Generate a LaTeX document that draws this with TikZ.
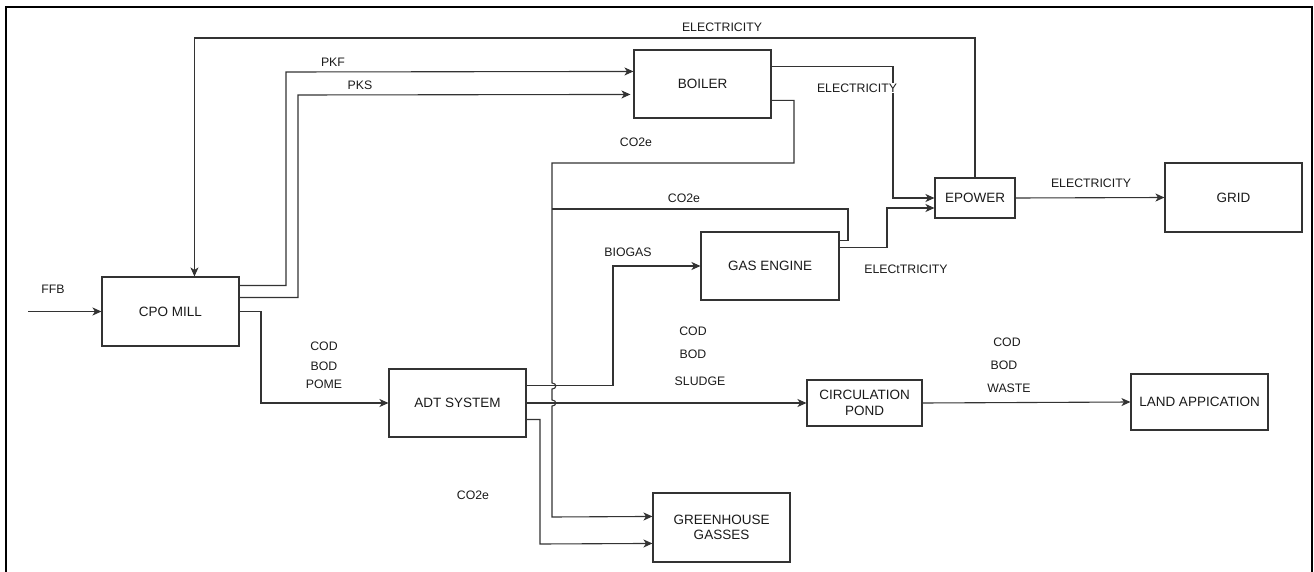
\documentclass[tikz,border=0pt]{standalone}
\usepackage{fontspec}
\setmainfont{Liberation Sans}
\usetikzlibrary{arrows.meta,calc}
\definecolor{ln}{HTML}{333333}
\definecolor{tx}{HTML}{1A1A1A}
\tikzset{
  blk/.style={draw=ln,line width=1.1pt,rectangle,inner sep=0pt,align=center,text=tx,font=\fontsize{13.5}{15.5}\selectfont},
  lbl/.style={inner sep=1pt,text=tx,font=\fontsize{12.3}{14}\selectfont},
  wire/.style={draw=ln,line width=1.1pt},
  arr/.style={wire,-{Stealth[length=9pt,width=8pt,inset=2.5pt]}}
}
\begin{document}
\begin{tikzpicture}[x=1pt,y=-1pt]
\useasboundingbox (0,0) rectangle (1314,572);
% frame
\draw[line width=2pt] (6,580) -- (6,7) -- (1312,7) -- (1312,580);
% blocks
\node[blk,minimum width=137pt,minimum height=69pt] (cpo) at (170.5,311.5) {CPO MILL};
\node[blk,minimum width=137pt,minimum height=68pt] (boiler) at (702.5,84) {BOILER};
\node[blk,minimum width=80pt,minimum height=40pt] (epower) at (975,198) {EPOWER};
\node[blk,minimum width=137pt,minimum height=69pt] (grid) at (1233.5,197.5) {GRID};
\node[blk,minimum width=138pt,minimum height=68pt] (gas) at (770,266) {GAS ENGINE};
\node[blk,minimum width=137pt,minimum height=68pt] (adt) at (457.5,403) {ADT SYSTEM};
\node[blk,minimum width=115pt,minimum height=46pt] (pond) at (864.5,403) {CIRCULATION\\POND};
\node[blk,minimum width=137pt,minimum height=56pt] (land) at (1199.5,402) {LAND APPICATION};
\node[blk,minimum width=137pt,minimum height=69pt] (ghg) at (721.5,527.5) {GREENHOUSE\\GASSES};
% FFB input
\coordinate (ffbin) at (28,311.5);
\draw[arr] (ffbin) -- (cpo.west);
% electricity feedback
\draw[arr] (epower.north) -- (epower.north |- 0,38) -| ($(cpo.north west)+(93,0)$);
% PKF, PKS
\draw[arr] ($(cpo.north east)+(0,9)$) -| (286,72) -- ($(boiler.north west)+(0,22)$);
\draw[arr] ($(cpo.north east)+(0,21)$) -| (298,95) -- ($(boiler.north west)+(-3,45)$);
% boiler electricity
\draw[arr] ($(boiler.north east)+(0,17)$) -| (893,198) -- (epower.west);
% gas engine electricity
\draw[arr] ($(gas.north east)+(0,16)$) -| (887,208) -- ($(epower.west)+(0,10)$);
% epower to grid
\draw[arr] (epower.east) -- (grid.west);
% CO2e collector
\coordinate (j2) at (552,209);
\draw[arr] ($(boiler.north east)+(0,51)$) -| (794,163) -- (552,163) -- (552,383)
  .. controls (557,383) and (557,389) .. (552,389) -- (552,400)
  .. controls (557,400) and (557,406) .. (552,406) -- (552,517) -- ($(ghg.north west)+(0,24)$);
\draw[wire] ($(gas.north east)+(0,9)$) -| (848,209) -- (j2);
% biogas
\draw[arr] ($(adt.north east)+(0,17)$) -| (613,266) -- (gas.west);
% adt to pond
\draw[arr] (adt.east) -- (pond.west);
% adt to ghg
\draw[arr] ($(adt.north east)+(0,51)$) -| (540,544) -- ($(ghg.north west)+(0,51)$);
% cpo to adt
\draw[arr] (cpo.east) -| (261,403) -- (adt.west);
% pond to land
\draw[arr] (pond.east) -- (land.west);
% labels
\node[lbl] (l1) at (722,27) {ELECTRICITY};
\node[lbl] (l2) at (333,62) {PKF};
\node[lbl] (l3) at (360,85) {PKS};
\node[lbl,fill=white] (l4) at (857,88) {ELECTRICITY};
\node[lbl] (l5) at (636,142) {CO2e};
\node[lbl] (l6) at (684,198) {CO2e};
\node[lbl] (l7) at (628,252) {BIOGAS};
\node[lbl] (l8) at (906,269) {ELECtTRICITY};
\node[lbl] (l9) at (1091,183) {ELECTRICITY};
\node[lbl] (l10) at (324,346) {COD};
\node[lbl] (l11) at (324,366) {BOD};
\node[lbl] (l12) at (324,384) {POME};
\node[lbl] (l13) at (693,331) {COD};
\node[lbl] (l14) at (693,354) {BOD};
\node[lbl] (l15) at (700,381) {SLUDGE};
\node[lbl] (l16) at (1007,342) {COD};
\node[lbl] (l17) at (1004,365) {BOD};
\node[lbl] (l18) at (1009,388) {WASTE};
\node[lbl] (l19) at (473,495) {CO2e};
\node[lbl] (l20) at (53,289) {FFB};
\end{tikzpicture}
\end{document}
